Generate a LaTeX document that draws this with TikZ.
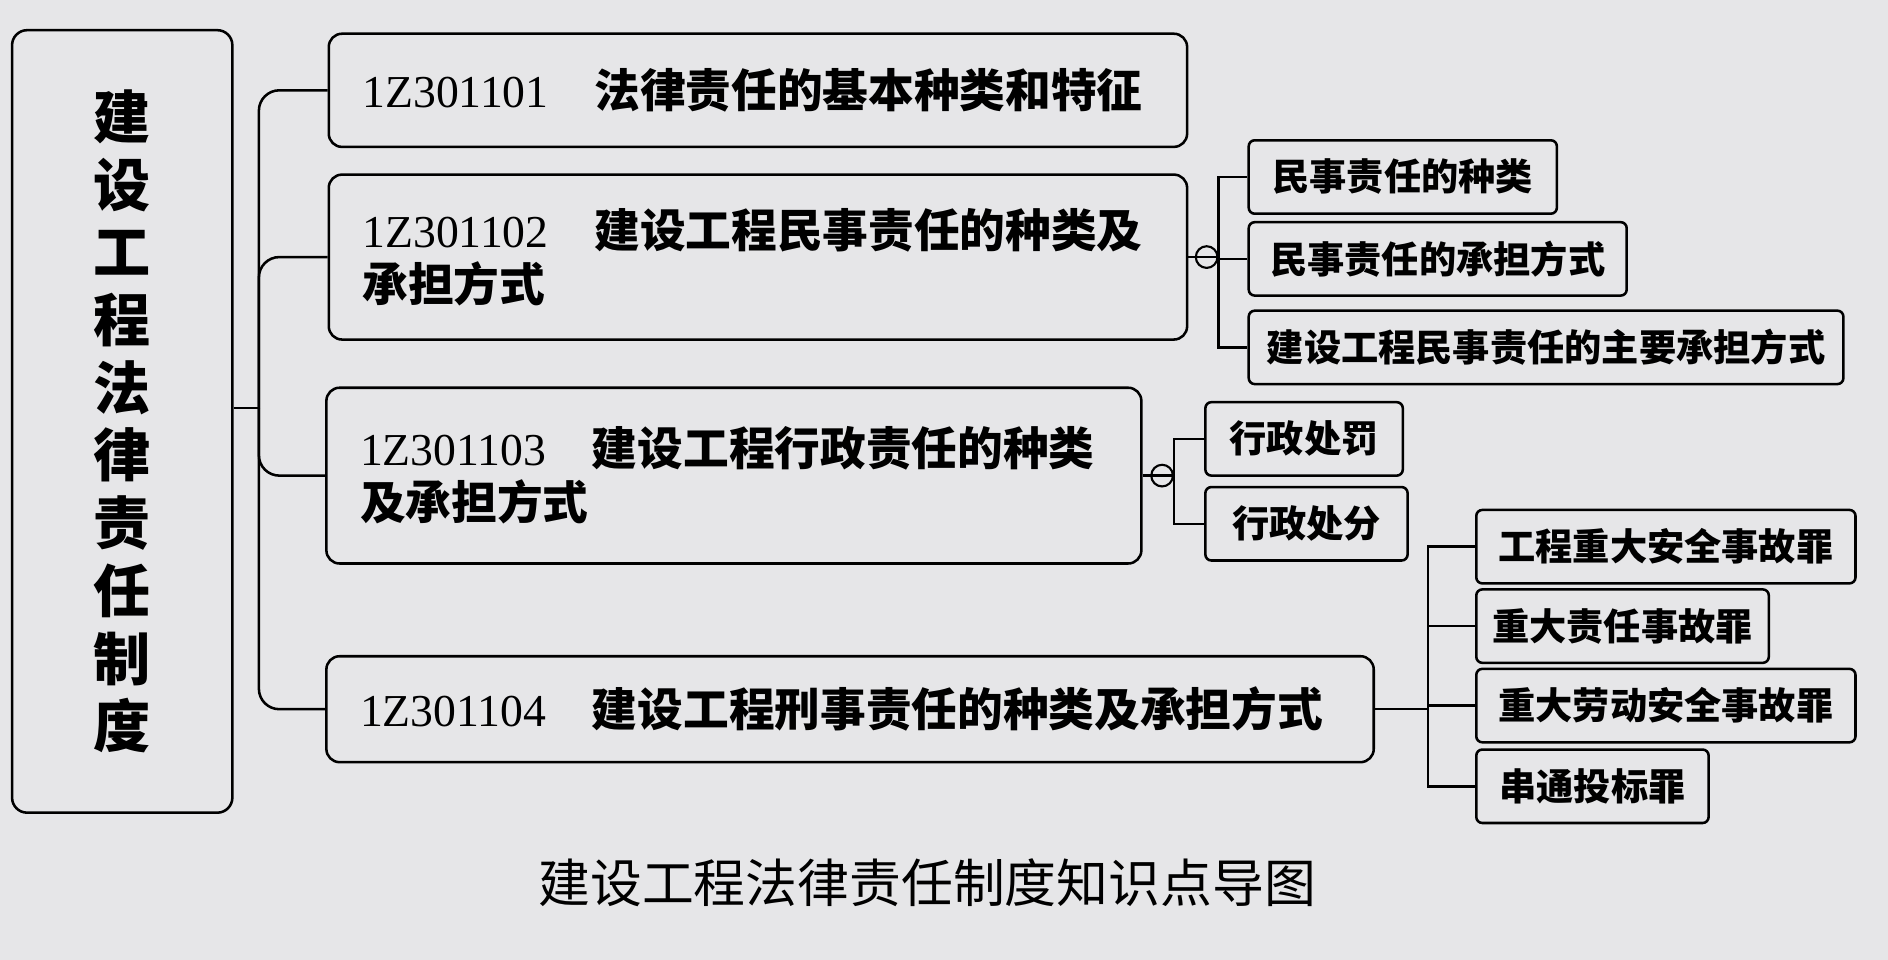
\documentclass[tikz,border=0pt]{standalone}
\usepackage{fontspec}
\setmainfont{Liberation Serif}
\newfontfamily\cjk{Noto Sans CJK SC}
\usetikzlibrary{positioning}
\definecolor{paper}{RGB}{230,230,232}
\begin{document}
\begin{tikzpicture}[x=0.02cm,y=-0.02cm,line width=1.2pt,
    topic/.style={draw,rounded corners=0.22cm,fill=paper,anchor=west,align=left,inner xsep=0.56cm,font=\fontsize{21.6}{25.5}\selectfont},
    leaf/.style={draw,rounded corners=0.1cm,fill=paper,anchor=west,minimum height=1.22cm,font=\cjk\bfseries\fontsize{17.6}{20}\selectfont},
    fold/.style={draw,circle,inner sep=0pt,minimum size=0.36cm,line width=1pt}]
    \useasboundingbox (0,0) rectangle (1568,797);
    \fill[paper] (0,0) rectangle (1568,797);
    \node[draw,rounded corners=0.25cm,minimum width=3.66cm,minimum height=13cm,align=center,font=\cjk\bfseries\fontsize{27}{32}\selectfont] (root) at (101.5,350) {建\\设\\工\\程\\法\\律\\责\\任\\制\\度};
    \node[topic,minimum height=1.88cm,text width=13.14cm] (t1) at (272,75) {1Z301101\quad{\cjk\bfseries 法律责任的基本种类和特征}};
    \node[topic,minimum height=2.74cm,text width=13.14cm] (t2) at (272,213.5) {1Z301102\quad{\cjk\bfseries 建设工程民事责任的种类及}\\{\cjk\bfseries 承担方式}};
    \node[topic,minimum height=2.92cm,text width=12.42cm] (t3) at (270,395) {1Z301103\quad{\cjk\bfseries 建设工程行政责任的种类}\\{\cjk\bfseries 及承担方式}};
    \node[topic,minimum height=1.76cm,text width=16.28cm] (t4) at (270,589) {1Z301104\quad{\cjk\bfseries 建设工程刑事责任的种类及承担方式}};
    \coordinate (trunk) at (215,339);
    \draw (root.east |- trunk) -- (trunk);
    \foreach \t in {t1,t2,t3,t4} {
      \draw[rounded corners=0.34cm] (trunk) |- (\t.west);
    }
    \foreach \n/\y/\w/\txt in {a/147/5.12/民事责任的种类, b/215/6.28/民事责任的承担方式, c/288.5/9.88/建设工程民事责任的主要承担方式} {
      \node[leaf,minimum width=\w cm] (l2\n) at (1036,\y) {\txt};
    }
    \foreach \n/\y/\w/\txt in {a/364.5/3.28/行政处罚, b/435/3.36/行政处分} {
      \node[leaf,minimum width=\w cm] (l3\n) at (1000,\y) {\txt};
    }
    \foreach \n/\y/\w/\txt in {a/454/6.3/工程重大安全事故罪, b/520/4.86/重大责任事故罪, c/586/6.3/重大劳动安全事故罪, d/653/3.86/串通投标罪} {
      \node[leaf,minimum width=\w cm] (l4\n) at (1225,\y) {\txt};
    }
    \coordinate (v2) at (1012,213.5);
    \coordinate (v3) at (975,395);
    \coordinate (v4) at (1186,589);
    \draw (t2.east) -- (v2);
    \draw (t3.east) -- (v3);
    \draw (t4.east) -- (v4);
    \node[fold,left=0pt of v2] (f2) {};
    \node[fold,left=0pt of v3] (f3) {};
    \foreach \n in {a,b,c} {
      \draw (v2) |- (l2\n.west);
    }
    \foreach \n in {a,b} {
      \draw (v3) |- (l3\n.west);
    }
    \foreach \n in {a,b,c,d} {
      \draw (v4) |- (l4\n.west);
    }
    \node[font=\cjk\fontsize{24.5}{28}\selectfont] (title) at (770,733) {建设工程法律责任制度知识点导图};
\end{tikzpicture}
\end{document}
